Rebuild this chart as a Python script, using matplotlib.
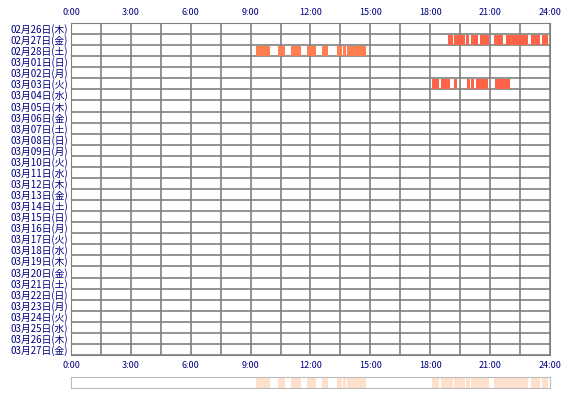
import matplotlib
matplotlib.use("Agg")
import matplotlib.pyplot as plt
import datetime as dt

plt.rcParams['font.family'] = ['Noto Sans CJK JP', 'DejaVu Sans']

wd = ['月', '火', '水', '木', '金', '土', '日']
start = dt.date(2015, 2, 26)
days = [start + dt.timedelta(days=i) for i in range(30)]
day_labels = [f"{d.month:02d}月{d.day:02d}日({wd[d.weekday()]})" for d in days]

hour_ticks = [0, 3, 6, 9, 12, 15, 18, 21, 24]
tick_labels = ["0:00", "3:00", "6:00", "9:00", "12:00", "15:00", "18:00", "21:00", "24:00"]

# activity segments (start hour, end hour) per row index
seg_row1 = [(18.90, 19.12), (19.19, 19.74), (19.79, 19.92), (20.02, 20.40), (20.49, 20.96),
            (21.21, 21.63), (21.79, 22.91), (23.03, 23.50), (23.60, 23.88)]
seg_row2 = [(9.27, 9.97), (10.37, 10.71), (11.01, 11.51), (11.82, 12.26), (12.58, 12.88),
            (13.33, 13.56), (13.63, 13.76), (13.84, 14.76)]
seg_row5 = [(18.09, 18.44), (18.54, 18.99), (19.19, 19.34), (19.84, 19.99), (20.04, 20.21),
            (20.29, 20.89), (21.24, 21.99)]
segments = {1: seg_row1, 2: seg_row2, 5: seg_row5}
row_colors = {1: '#FF6347', 2: '#FF7F50', 5: '#FF6347'}

W, H = 570, 400
fig = plt.figure(figsize=(W/100, H/100), dpi=100)
ax = fig.add_axes([71/W, 1-355/H, 479/W, (355-23)/H])
n = len(days)
for i in range(17):
    ax.axvline(i * 1.5, color='#808080', lw=1.2, zorder=1)
for j in range(n + 1):
    ax.axhline(j, color='#808080', lw=1.2, zorder=1)
for r, segs in segments.items():
    for a, b in segs:
        ax.barh(r + 0.5, b - a, left=a, height=0.92, color=row_colors[r], linewidth=0, zorder=2)
ax.set_xlim(0, 24)
ax.set_ylim(n, 0)
for s in ax.spines.values():
    s.set_color('#808080')
ax.set_yticks([i + 0.5 for i in range(n)])
ax.set_yticklabels(day_labels, fontsize=7, color='#000080')
ax.set_xticks(hour_ticks)
ax.set_xticklabels(tick_labels, fontsize=6.5, color='#000080')
ax.tick_params(length=0, pad=2, labeltop=True, top=False)
ax.tick_params(axis='x', pad=4)

ax2 = fig.add_axes([71/W, 1-388/H, 479/W, 11/H])
for r, segs in segments.items():
    for a, b in segs:
        ax2.axvspan(a, b, color='#FFE0CC', lw=0)
ax2.set_xlim(0, 24)
ax2.set_xticks([]); ax2.set_yticks([])
for s in ax2.spines.values():
    s.set_color('#BBBBBB')

fig.savefig('out.png', dpi=100)
